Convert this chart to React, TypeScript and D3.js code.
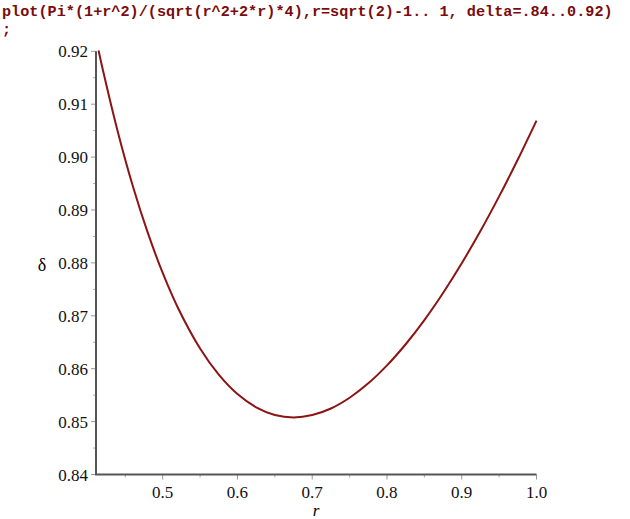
import React from "react";
import * as d3 from "d3";

const rValues = [0.41421, 0.42, 0.44, 0.46, 0.48, 0.5, 0.52, 0.55, 0.575, 0.6, 0.625, 0.65, 0.675, 0.7, 0.725, 0.75, 0.775, 0.8, 0.825, 0.85, 0.875, 0.9, 0.925, 0.95, 0.975, 1.0];
const deltaValues = [0.92016, 0.91646, 0.90475, 0.89454, 0.88571, 0.8781, 0.87162, 0.86381, 0.85887, 0.8552, 0.8527, 0.85126, 0.85079, 0.85123, 0.85248, 0.85451, 0.85723, 0.86062, 0.86462, 0.86919, 0.87431, 0.87993, 0.88602, 0.89257, 0.89954, 0.9069];
const xTicks = [0.5, 0.6, 0.7, 0.8, 0.9, 1.0];
const yTicks = [0.84, 0.85, 0.86, 0.87, 0.88, 0.89, 0.9, 0.91, 0.92];
const commandLine = "plot(Pi*(1+r^2)/(sqrt(r^2+2*r)*4),r=sqrt(2)-1.. 1, delta=.84..0.92)";

const serif = "Liberation Serif";
const mono = "Liberation Mono";

export default function App() {
  const x = d3.scaleLinear().domain([0.5, 1.0]).range([162.7, 536.5]);
  const y = d3.scaleLinear().domain([0.84, 0.92]).range([474.5, 51.3]);
  const axisLeft = 96;
  const axisBottom = y(0.84);

  const pts = rValues.map((r, i) => [r, deltaValues[i]] as [number, number]);
  const line = d3
    .line<[number, number]>()
    .x((d) => x(d[0]))
    .y((d) => y(d[1]))
    .curve(d3.curveCatmullRom.alpha(0.5));

  const labelStyle = { fontFamily: serif, fontSize: "17px" };

  return (
    <svg
      width={630}
      height={519}
      style={{ position: "absolute", left: 0, top: 0, background: "white" }}
    >
      <text
        fill="#7a0c0c"
        style={{ fontFamily: mono, fontWeight: "bold", fontSize: "15.2px" }}
      >
        <tspan x={2} y={16}>{commandLine}</tspan>
        <tspan x={2} y={34}>;</tspan>
      </text>

      {/* y ticks */}
      {yTicks.map((t, i) => (
        <g key={"y" + t}>
          <line x1={axisLeft - 5} x2={axisLeft} y1={y(t)} y2={y(t)} stroke="#999" strokeWidth={1} />
          {i < yTicks.length - 1 && (
            <line x1={axisLeft - 3} x2={axisLeft} y1={y(t + 0.005)} y2={y(t + 0.005)} stroke="#aaa" strokeWidth={1} />
          )}
          <text x={axisLeft - 8} y={y(t) + 6} textAnchor="end" fill="#111" style={labelStyle}>
            {t.toFixed(2)}
          </text>
        </g>
      ))}

      {/* x ticks */}
      {xTicks.map((t) => (
        <g key={"x" + t}>
          <line x1={x(t)} x2={x(t)} y1={axisBottom} y2={axisBottom + 5} stroke="#999" strokeWidth={1} />
          <line x1={x(t - 0.05)} x2={x(t - 0.05)} y1={axisBottom} y2={axisBottom + 3} stroke="#aaa" strokeWidth={1} />
          <text x={x(t)} y={498} textAnchor="middle" fill="#111" style={labelStyle}>
            {t.toFixed(1)}
          </text>
        </g>
      ))}

      {/* axes */}
      <line x1={axisLeft} x2={axisLeft} y1={y(0.92)} y2={axisBottom} stroke="#555" strokeWidth={2} />
      <line x1={axisLeft - 1} x2={x(1.0)} y1={axisBottom} y2={axisBottom} stroke="#555" strokeWidth={2} />

      {/* axis labels */}
      <text x={316} y={516} textAnchor="middle" style={{ fontFamily: serif, fontStyle: "italic", fontSize: "17px" }}>
        r
      </text>
      <text x={42} y={271} textAnchor="middle" style={{ fontFamily: serif, fontSize: "18px" }}>
        δ
      </text>

      {/* curve */}
      <path d={line(pts) ?? ""} fill="none" stroke="#8b1414" strokeWidth={2} />
    </svg>
  );
}
